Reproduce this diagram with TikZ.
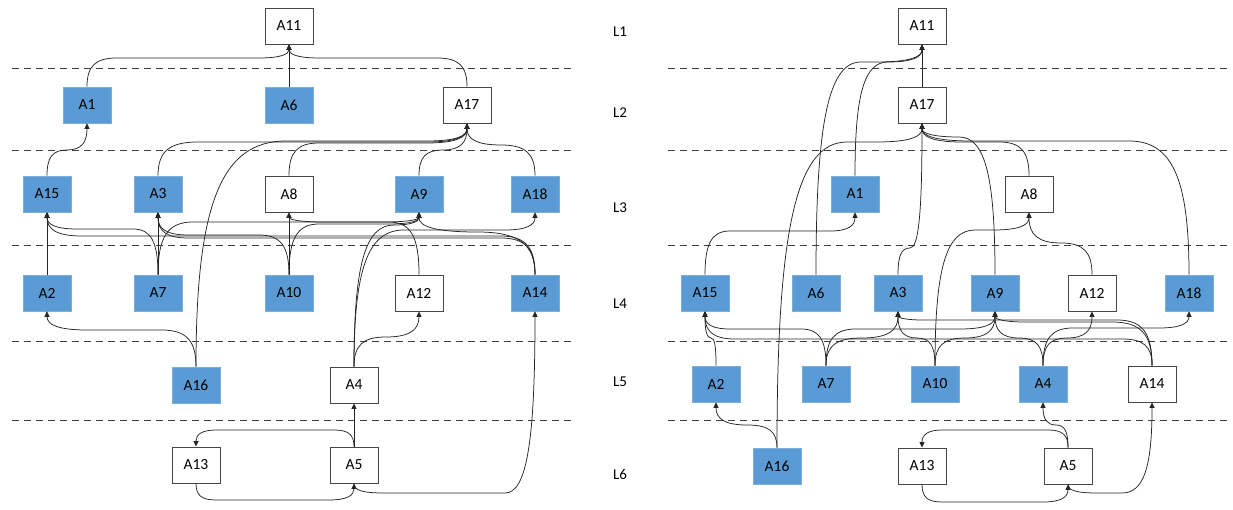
\documentclass[tikz,border=0pt]{standalone}
\usepackage{fontspec}
\setmainfont{Carlito}
\usetikzlibrary{arrows.meta,calc}
\definecolor{boxblue}{HTML}{5B9BD5}
\definecolor{boxblueedge}{HTML}{7AAEDD}
\definecolor{edgecol}{HTML}{262626}
\definecolor{dashcol}{HTML}{404040}
\newcommand\vconn[6][]{%
  \path (#2 |- 0,#4) coordinate (cA) (#3 |- 0,#4) coordinate (cB);
  \path ($(cA)!#5pt!(cB)$) coordinate (mA) ($(cB)!#6pt!(cA)$) coordinate (mB);
  \draw[conn,#1] (#2) .. controls ($(#2)!0.72!(cA)$) and ($(mA)!0.72!(cA)$) .. (mA) -- (mB)
     .. controls ($(mB)!0.72!(cB)$) and ($(#3)!0.72!(cB)$) .. (#3);
}
\begin{document}
\begin{tikzpicture}[x=1pt,y=-1pt,
  basebox/.style={rectangle, minimum width=48pt, minimum height=36pt, inner sep=0pt,
    font=\fontsize{15.5}{18}\selectfont, text=black},
  bluebox/.style={basebox, fill=boxblue, draw=boxblueedge, line width=0.6pt},
  whitebox/.style={basebox, fill=white, draw=edgecol!85, line width=0.9pt},
  conn/.style={draw=edgecol, line width=0.75pt, -{Triangle[length=5.5pt,width=5pt]}},
  layerline/.style={draw=dashcol, line width=1pt, dash pattern=on 7pt off 5pt},
  lvl/.style={font=\fontsize{15}{17}\selectfont, text=black}]
\useasboundingbox (0,0) rectangle (1233,510);
\fill[white] (0,0) rectangle (1233,510);

% layer separators
\foreach \yy in {69,151,246,341,420}{
  \draw[layerline] (12,\yy) -- (572,\yy);
  \draw[layerline] (668,\yy) -- (1230,\yy);
}
% level labels
\node[lvl] (L1) at (620,32) {L1};
\node[lvl] (L2) at (620,113) {L2};
\node[lvl] (L3) at (620,208) {L3};
\node[lvl] (L4) at (620,304) {L4};
\node[lvl] (L5) at (620,382) {L5};
\node[lvl] (L6) at (620,474) {L6};

% ---------------- left panel nodes
\node[whitebox] (lA11) at (289,26) {A11};
\node[bluebox]  (lA1)  at (87,105) {A1};
\node[bluebox]  (lA6)  at (289,105) {A6};
\node[whitebox] (lA17) at (467,105) {A17};
\node[bluebox]  (lA15) at (47,194) {A15};
\node[bluebox]  (lA3)  at (158,194) {A3};
\node[whitebox] (lA8)  at (289,194) {A8};
\node[bluebox]  (lA9)  at (419,194) {A9};
\node[bluebox]  (lA18) at (535,194) {A18};
\node[bluebox]  (lA2)  at (47,293) {A2};
\node[bluebox]  (lA7)  at (158,293) {A7};
\node[bluebox]  (lA10) at (289,293) {A10};
\node[whitebox] (lA12) at (419,293) {A12};
\node[bluebox]  (lA14) at (535,293) {A14};
\node[bluebox]  (lA16) at (196,385) {A16};
\node[whitebox] (lA4)  at (354,385) {A4};
\node[whitebox] (lA13) at (196,465) {A13};
\node[whitebox] (lA5)  at (354,465) {A5};

% ---------------- left panel edges
\vconn{lA1.north}{lA11.south}{58}{30}{30}
\draw[conn] (lA6.north) -- (lA11.south);
\vconn{lA17.north}{lA11.south}{58}{30}{30}
\vconn{lA15.north}{lA1.south}{150}{20}{20}
\vconn{lA3.north}{lA17.south}{142}{40}{40}
\vconn{lA8.north}{lA17.south}{143}{30}{40}
\vconn{lA9.north}{lA17.south}{150}{24}{24}
\vconn{lA18.north}{lA17.south}{145}{34}{34}
\vconn{lA16.north}{lA17.south}{141}{90}{40}
\draw[conn] (lA2.north) -- (lA15.south);
\vconn{lA7.north}{lA15.south}{229}{25}{30}
\draw[conn] (lA7.north) -- (lA3.south);
\vconn{lA7.north}{lA9.south}{222}{35}{35}
\vconn{lA10.north}{lA3.south}{235}{30}{30}
\draw[conn] (lA10.north) -- (lA8.south);
\vconn{lA10.north}{lA9.south}{224}{30}{30}
\vconn{lA12.north}{lA8.south}{222}{30}{35}
\vconn{lA4.north}{lA9.south}{225}{40}{25}
\vconn{lA4.north}{lA12.south}{337}{32}{33}
\vconn{lA4.north}{lA18.south}{230}{50}{30}
\vconn{lA14.north}{lA15.south}{236}{35}{35}
\vconn{lA14.north}{lA3.south}{238}{35}{30}
\vconn{lA14.north}{lA9.south}{232}{58}{58}
\vconn{lA16.north}{lA2.south}{330}{35}{40}
\draw[conn] (lA5.north) -- (lA4.south);
\vconn{lA5.north}{lA13.north}{430}{20}{20}
\vconn{lA13.south}{lA5.south}{500}{20}{25}
\vconn{lA5.south}{lA14.south}{493}{30}{30}

% ---------------- right panel nodes
\node[whitebox] (rA11) at (922,26) {A11};
\node[whitebox] (rA17) at (922,105) {A17};
\node[bluebox]  (rA1)  at (855,194) {A1};
\node[whitebox] (rA8)  at (1029,194) {A8};
\node[bluebox]  (rA15) at (705,293) {A15};
\node[bluebox]  (rA6)  at (816,293) {A6};
\node[bluebox]  (rA3)  at (898,293) {A3};
\node[bluebox]  (rA9)  at (995,293) {A9};
\node[whitebox] (rA12) at (1092,293) {A12};
\node[bluebox]  (rA18) at (1189,293) {A18};
\node[bluebox]  (rA2)  at (716,384) {A2};
\node[bluebox]  (rA7)  at (826,384) {A7};
\node[bluebox]  (rA10) at (935,384) {A10};
\node[bluebox]  (rA4)  at (1043,384) {A4};
\node[whitebox] (rA14) at (1152,384) {A14};
\node[bluebox]  (rA16) at (777,466) {A16};
\node[whitebox] (rA13) at (922,466) {A13};
\node[whitebox] (rA5)  at (1068,466) {A5};

% ---------------- right panel edges
\draw[conn] (rA17.north) -- (rA11.south);
\vconn{rA1.north}{rA11.south}{62}{33}{34}
\vconn{rA6.north}{rA11.south}{62}{45}{45}
\vconn{rA3.north}{rA17.south}{248}{12}{12}
\vconn{rA9.north}{rA17.south}{137}{36}{37}
\vconn{rA8.north}{rA17.south}{142}{30}{40}
\vconn{rA18.north}{rA17.south}{141}{60}{50}
\vconn{rA16.north}{rA17.south}{142}{70}{45}
\vconn{rA15.north}{rA1.south}{231}{25}{25}
\vconn{rA10.north}{rA8.south}{230}{40}{35}
\vconn{rA12.north}{rA8.south}{243}{31}{32}
\vconn{rA2.north}{rA15.south}{338}{5}{6}
\vconn{rA16.north}{rA2.south}{425}{30}{31}
\vconn{rA7.north}{rA15.south}{329}{25}{25}
\vconn{rA7.north}{rA3.south}{338}{36}{36}
\vconn{rA7.north}{rA9.south}{329}{30}{35}
\vconn{rA10.north}{rA3.south}{338}{18}{19}
\vconn{rA10.north}{rA9.south}{338}{30}{30}
\vconn{rA4.north}{rA9.south}{338}{24}{24}
\vconn{rA4.north}{rA12.south}{338}{24}{25}
\vconn{rA4.north}{rA18.south}{328}{30}{30}
\vconn{rA14.north}{rA15.south}{339}{30}{30}
\vconn{rA14.north}{rA3.south}{320}{35}{25}
\vconn{rA14.north}{rA9.south}{322}{40}{30}
\vconn{rA5.north}{rA4.south}{425}{12}{13}
\vconn{rA5.north}{rA13.north}{430}{20}{20}
\vconn{rA13.south}{rA5.south}{502}{20}{25}
\vconn{rA5.south}{rA14.south}{493}{30}{30}
\end{tikzpicture}
\end{document}
